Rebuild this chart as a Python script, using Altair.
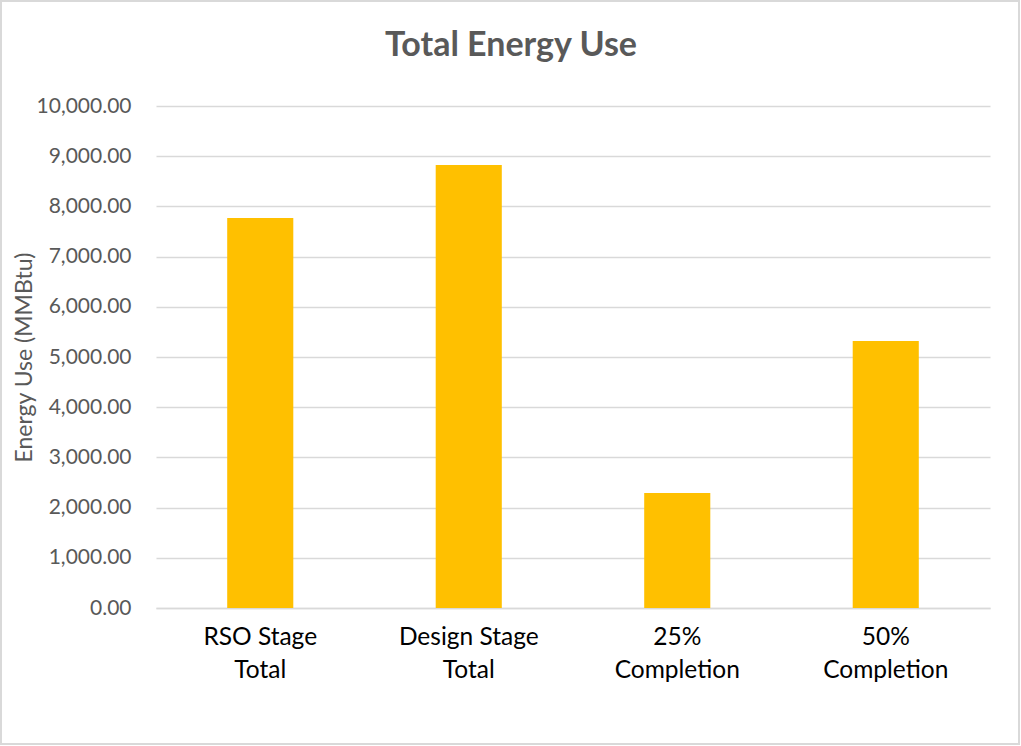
import altair as alt
import pandas as pd

categories = ["RSO Stage\nTotal", "Design Stage\nTotal", "25%\nCompletion", "50%\nCompletion"]
values = [7770, 8825, 2290, 5320]
y_ticks = [0, 1000, 2000, 3000, 4000, 5000, 6000, 7000, 8000, 9000, 10000]

df = pd.DataFrame({"category": categories, "value": values})

FONT = "Lato"
GRAY = "#595959"

bars = alt.Chart(df).mark_bar(color="#FFC000").encode(
    x=alt.X("category:N", sort=categories,
            scale=alt.Scale(paddingInner=0.683, paddingOuter=0.3415),
            axis=alt.Axis(title=None, labelAngle=0, labelExpr="split(datum.label, '\\n')",
                          labelFont=FONT, labelFontSize=24.5, labelColor="#000000",
                          labelPadding=17, labelLineHeight=33,
                          ticks=False, domainColor="#D9D9D9", domainWidth=1.5)),
    y=alt.Y("value:Q", scale=alt.Scale(domain=[0, 10000], nice=False),
            axis=alt.Axis(title="Energy Use (MMBtu)", format=",.2f",
                          values=y_ticks, labelOverlap=False,
                          labelFont=FONT, labelFontSize=21, labelColor=GRAY, labelPadding=25,
                          titleFont=FONT, titleFontSize=23, titleColor=GRAY, titleFontWeight="normal",
                          titleX=-132, titleY=251, titleAlign="center", titleBaseline="middle",
                          ticks=False, domain=False,
                          gridColor="#D9D9D9", gridWidth=1.5)),
)

border = alt.Chart(df).mark_rect(fill=None, stroke="#D9D9D9", strokeWidth=2).encode(
    x=alt.value(-155), x2=alt.value(863), y=alt.value(-105), y2=alt.value(638)
)

chart = alt.layer(border, bars).properties(
    width=834, height=502,
    title=alt.TitleParams("Total Energy Use", font=FONT, fontSize=34, fontWeight="bold",
                          color=GRAY, anchor="middle", dx=-62, offset=-63),
    padding={"left": 156, "top": 106, "right": 31, "bottom": 138},
    autosize=alt.AutoSizeParams(type="none"),
    background="white",
).configure_view(stroke=None)

chart.save("out.html", embed_options={"renderer": "svg", "actions": False})
